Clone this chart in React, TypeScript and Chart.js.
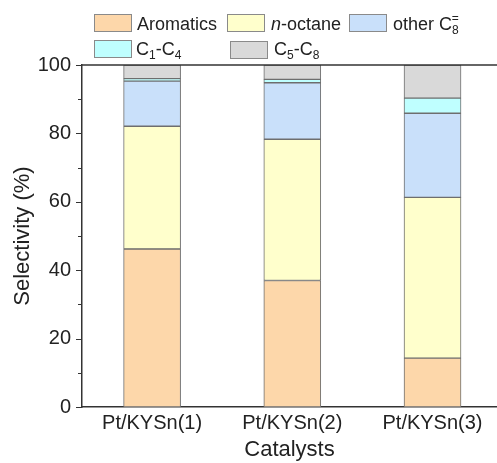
import React, { useEffect, useRef } from "react";
import { Chart, registerables } from "chart.js";

Chart.register(...registerables);

const categories = ["Pt/KYSn(1)", "Pt/KYSn(2)", "Pt/KYSn(3)"];
const aromatics = [46.2, 37.0, 14.3];
const nOctane = [35.9, 41.3, 47.0];
const otherC8 = [13.2, 16.5, 24.6];
const c1c4 = [0.7, 1.0, 4.4];
const c5c8 = [4.0, 4.2, 9.7];
const yTicks = [0, 20, 40, 60, 80, 100];
const yMinorTicks = [10, 30, 50, 70, 90];

const colors = {
  aromatics: "#FDD7AA",
  nOctane: "#FFFFCC",
  otherC8: "#C9E0FA",
  c1c4: "#BFFFFF",
  c5c8: "#D9D9D9",
};

const FONT = "'Liberation Sans', Arial, sans-serif";
const AXIS = "#333333";

const framePlugin = {
  id: "frame",
  afterDraw(chart: any) {
    const { ctx, chartArea } = chart;
    const y = chart.scales.y;
    ctx.save();
    ctx.strokeStyle = AXIS;
    ctx.lineWidth = 1.5;
    ctx.beginPath();
    ctx.moveTo(chartArea.left, chartArea.top);
    ctx.lineTo(chartArea.right, chartArea.top);
    ctx.stroke();
    ctx.lineWidth = 1;
    const drawTick = (v: number, len: number) => {
      const p = Math.round(y.getPixelForValue(v)) + 0.5;
      ctx.beginPath();
      ctx.moveTo(chartArea.left - len, p);
      ctx.lineTo(chartArea.left, p);
      ctx.stroke();
    };
    yTicks.forEach((v) => drawTick(v, 6));
    yMinorTicks.forEach((v) => drawTick(v, 4));
    ctx.restore();
  },
};

function mk(label: string, values: number[], color: string) {
  return {
    label,
    data: values.map((v, i) => ({ x: i, y: v })),
    backgroundColor: color,
    borderColor: "#6E6E6E",
    borderWidth: 1,
    borderSkipped: false as any,
    barThickness: 57,
  };
}

function Box({ left, top, color }: { left: number; top: number; color: string }) {
  return (
    <div
      style={{
        position: "absolute",
        left,
        top,
        width: 38,
        height: 18,
        background: color,
        border: "1px solid #8a8a8a",
        boxSizing: "border-box",
      }}
    />
  );
}

function Label({ left, top, children }: { left: number; top: number; children: any }) {
  return (
    <div
      style={{
        position: "absolute",
        left,
        top,
        fontFamily: FONT,
        fontSize: 18,
        lineHeight: "18px",
        color: "#222",
        whiteSpace: "nowrap",
      }}
    >
      {children}
    </div>
  );
}

const subStyle: React.CSSProperties = { fontSize: 12, verticalAlign: "-4px", lineHeight: 0 };
const supStyle: React.CSSProperties = { fontSize: 12, verticalAlign: "8px", lineHeight: 0 };

export default function App() {
  const ref = useRef<HTMLCanvasElement>(null);
  useEffect(() => {
    if (!ref.current) return;
    const chart = new Chart(ref.current, {
      type: "bar",
      data: {
        datasets: [
          mk("Aromatics", aromatics, colors.aromatics),
          mk("n-octane", nOctane, colors.nOctane),
          mk("other C8=", otherC8, colors.otherC8),
          mk("C1-C4", c1c4, colors.c1c4),
          mk("C5-C8", c5c8, colors.c5c8),
        ],
      },
      options: {
        animation: false,
        responsive: false,
        maintainAspectRatio: false,
        layout: { padding: { top: 65, left: 0, right: 0, bottom: 0 } },
        plugins: { legend: { display: false }, tooltip: { enabled: false } },
        scales: {
          x: {
            type: "linear",
            stacked: true,
            offset: false,
            min: -0.5,
            max: 2.46,
            grid: { display: false, drawTicks: false, offset: false },
            border: { display: true, color: AXIS, width: 1.5 },
            afterBuildTicks: (scale: any) => {
              scale.ticks = categories.map((_, i) => ({ value: i }));
            },
            afterFit: (scale: any) => {
              scale.height = 56;
              scale.paddingLeft = 0;
              scale.paddingRight = 0;
            },
            ticks: {
              autoSkip: false,
              maxRotation: 0,
              padding: 4,
              color: "#222",
              font: { family: FONT, size: 20 },
              callback: (v: any) => categories[v as number] ?? "",
            },
            title: {
              display: true,
              text: "Catalysts",
              color: "#222",
              font: { family: FONT, size: 22 },
              padding: { top: 0, bottom: 0 },
            },
          },
          y: {
            stacked: true,
            min: 0,
            max: 100,
            grid: { display: false, drawTicks: false },
            border: { display: true, color: AXIS, width: 1.5 },
            afterFit: (scale: any) => {
              scale.width = 82;
              scale.paddingTop = 0;
              scale.paddingBottom = 0;
            },
            ticks: {
              stepSize: 20,
              padding: 11,
              color: "#222",
              font: { family: FONT, size: 20 },
            },
            title: {
              display: true,
              text: "Selectivity (%)",
              color: "#222",
              font: { family: FONT, size: 22 },
              padding: { top: 10, bottom: 0 },
            },
          },
        },
      } as any,
      plugins: [framePlugin],
    });
    return () => chart.destroy();
  }, []);

  return (
    <div style={{ position: "fixed", left: 0, top: 0, width: 497, height: 463, background: "#fff" }}>
      <canvas ref={ref} width={497} height={463} style={{ position: "absolute", left: 0, top: 0, width: 497, height: 463 }} />
      <Box left={94} top={14} color={colors.aromatics} />
      <Label left={137} top={15}>Aromatics</Label>
      <Box left={227} top={14} color={colors.nOctane} />
      <Label left={271} top={15}>
        <i>n</i>-octane
      </Label>
      <Box left={349} top={14} color={colors.otherC8} />
      <Label left={393} top={15}>
        other C<span style={subStyle}>8</span>
        <span style={{ ...supStyle, marginLeft: -7 }}>=</span>
      </Label>
      <Box left={94} top={40} color={colors.c1c4} />
      <Label left={136} top={40}>
        C<span style={subStyle}>1</span>-C<span style={subStyle}>4</span>
      </Label>
      <Box left={230} top={41} color={colors.c5c8} />
      <Label left={274} top={40}>
        C<span style={subStyle}>5</span>-C<span style={subStyle}>8</span>
      </Label>
    </div>
  );
}
